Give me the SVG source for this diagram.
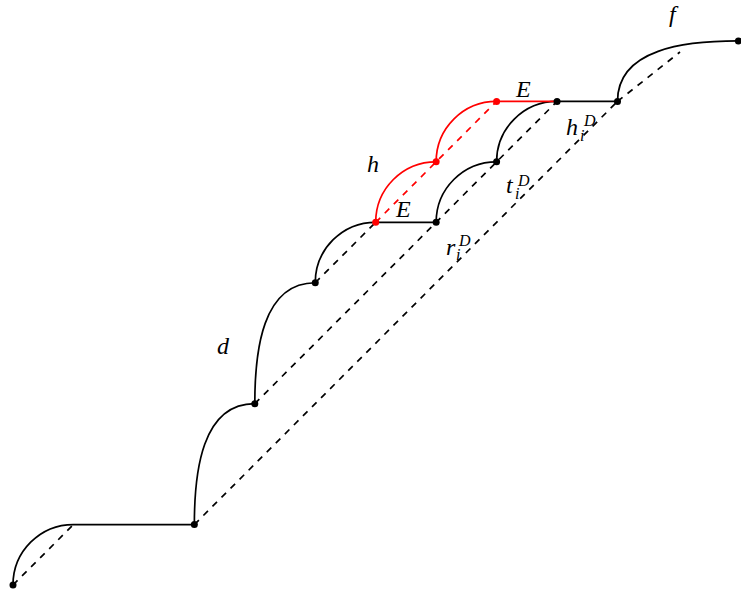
<svg xmlns="http://www.w3.org/2000/svg" width="741" height="599" viewBox="0 0 741 599">
<style>
.c{fill:none;stroke:#000;stroke-width:1.7}
.r{stroke:#ff0000}
.d{stroke-dasharray:6.4 6.4}
.n{fill:#000}
.nr{fill:#ff0000}
.t{font-family:"Liberation Serif","DejaVu Serif",serif;font-style:italic;font-size:24px;fill:#000}
.s{font-size:16px}
</style>
<rect width="741" height="599" fill="#fff"/>
<g id="connectors">
<path class="c" d="M13,585 C13,551.5 40,524.55 73.45,524.55 L194.35,524.55"/>
<path class="c" d="M194.35,524.55 C194.35,471.65 201.9,403.65 254.8,403.65"/>
<path class="c" d="M254.8,403.65 C254.8,350.75 262.35,282.75 315.25,282.75"/>
<path class="c" d="M315.25,282.75 C315.25,249.28 342.23,222.3 375.7,222.3"/>
<path class="c r" d="M375.7,222.3 C375.7,188.83 402.68,161.85 436.15,161.85"/>
<path class="c r" d="M436.15,161.85 C436.15,128.38 463.13,101.4 496.6,101.4"/>
<path class="c" d="M436.15,222.3 C436.15,188.83 463.13,161.85 496.6,161.85"/>
<path class="c" d="M496.6,161.85 C496.6,128.38 523.58,101.4 557.05,101.4"/>
<path class="c" d="M375.7,222.3 H436.15"/>
<path class="c r" d="M496.6,101.4 H557.05"/>
<path class="c" d="M557.05,101.4 H617.5"/>
<path class="c" d="M617.5,101.4 C617.5,48.5 685.5,40.95 738.4,40.95"/>
<path class="c d" d="M13,585 L73.45,524.55"/>
<path class="c d" d="M194.35,524.55 L617.5,101.4"/>
<path class="c d" d="M254.8,403.65 L557.05,101.4"/>
<path class="c d" d="M315.25,282.75 L375.7,222.3"/>
<path class="c d r" d="M375.7,222.3 L496.6,101.4"/>
<path class="c d" d="M617.5,101.4 L680,52"/>
</g>
<g id="n0"><circle class="n" cx="13" cy="585" r="3.5"/></g>
<g id="n1"><circle class="n" cx="194.35" cy="524.55" r="3.5"/></g>
<g id="n2"><circle class="n" cx="254.8" cy="403.65" r="3.5"/></g>
<g id="n3"><circle class="n" cx="315.25" cy="282.75" r="3.5"/></g>
<g id="n4"><circle class="nr" cx="375.7" cy="222.3" r="3.5"/></g>
<g id="n5"><circle class="n" cx="436.15" cy="222.3" r="3.5"/></g>
<g id="n6"><circle class="nr" cx="436.15" cy="161.85" r="3.5"/></g>
<g id="n7"><circle class="n" cx="496.6" cy="161.85" r="3.5"/></g>
<g id="n8"><circle class="nr" cx="496.6" cy="101.4" r="3.5"/></g>
<g id="n9"><circle class="n" cx="557.05" cy="101.4" r="3.5"/></g>
<g id="n10"><circle class="n" cx="617.5" cy="101.4" r="3.5"/></g>
<g id="n11"><circle class="n" cx="738.4" cy="40.95" r="3.5"/></g>
<g id="labels">
<text class="t" x="669" y="22">f</text>
<text class="t" x="516" y="97">E</text>
<text class="t" x="396" y="217">E</text>
<text class="t" x="367" y="172">h</text>
<text class="t" x="217" y="354">d</text>
<text class="t" x="566" y="135">h</text>
<text class="t s" x="584" y="126">D</text>
<text class="t s" x="580" y="141">i</text>
<text class="t" x="506" y="193">t</text>
<text class="t s" x="518" y="186">D</text>
<text class="t s" x="515" y="199">i</text>
<text class="t" x="446" y="255">r</text>
<text class="t s" x="459" y="246">D</text>
<text class="t s" x="456" y="260">i</text>
</g>
</svg>
